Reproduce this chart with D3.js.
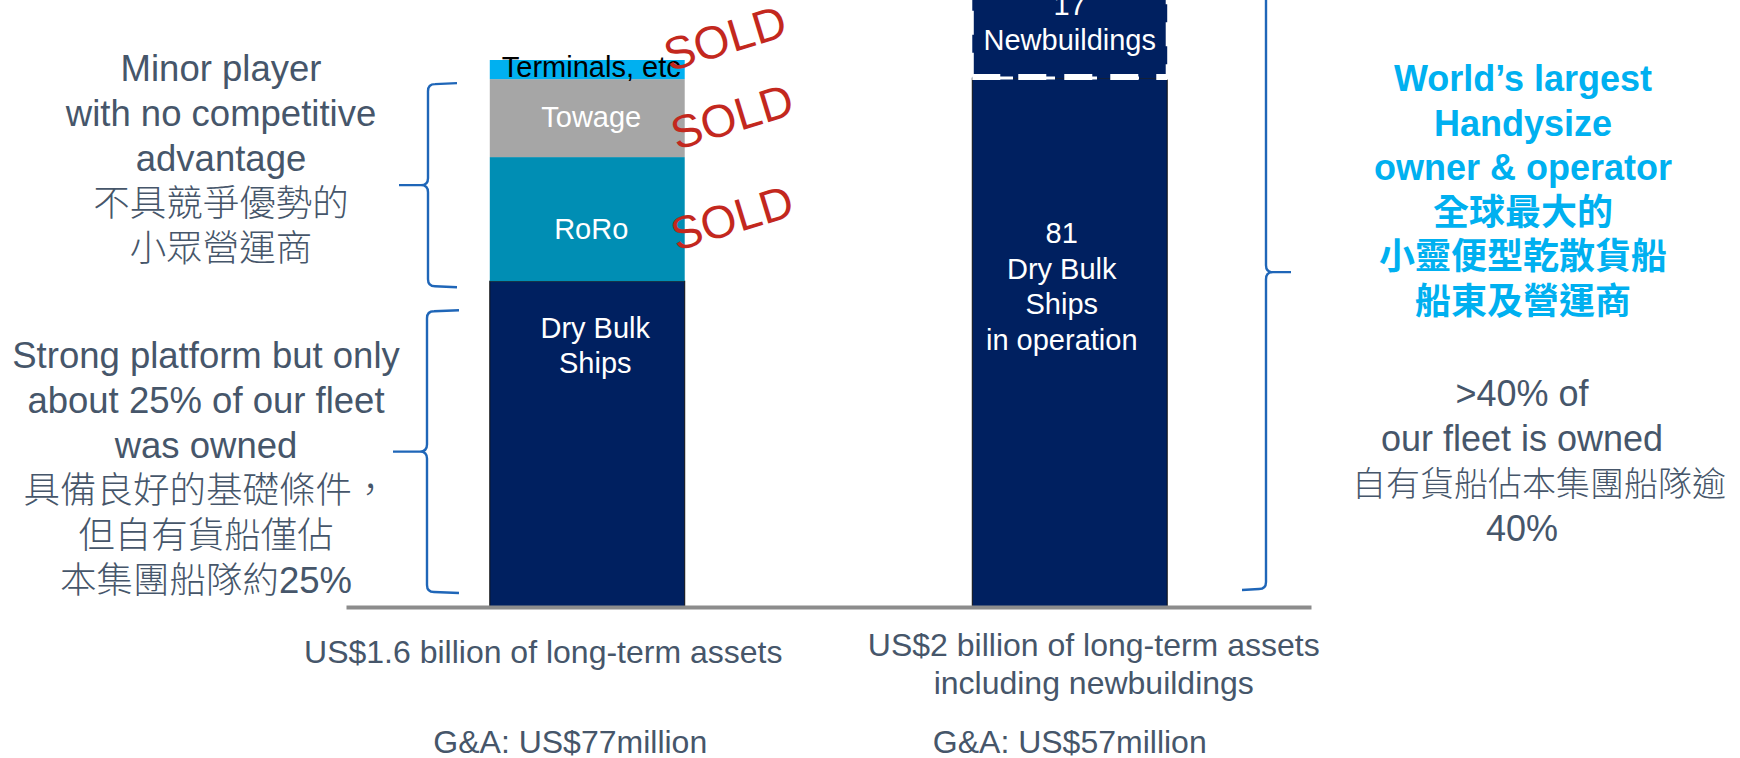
<!DOCTYPE html>
<html>
<head>
<meta charset="utf-8">
<script src="https://cdn.jsdelivr.net/npm/d3@7"></script>
<style>
body { margin: 0; background: #fff; }
text { font-family: "Liberation Sans", Arial, "Noto Sans CJK TC", sans-serif; }
</style>
</head>
<body>
<script>
// --- data (US$ billion of long-term assets) ---
var categories = ["before", "after"];
var beforeSegments = ["Dry Bulk", "RoRo", "Towage", "Terminals, etc"];
var beforeValues = [0.953, 0.363, 0.228, 0.056];
var beforeSold = [false, true, true, true];
var afterSegments = ["Dry Bulk in operation", "Newbuildings"];
var afterValues = [1.547, 0.453];

var beforeLabels = [["Dry Bulk", "Ships"], ["RoRo"], ["Towage"], ["Terminals, etc"]];
var afterLabels = [["81", "Dry Bulk", "Ships", "in operation"], ["17", "Newbuildings"]];

var bottomLabels = [
    ["US$1.6 billion of long-term assets"],
    ["US$2 billion of long-term assets", "including newbuildings"]
];
var gaLabels = ["G&A: US$77million", "G&A: US$57million"];

var minorText = ["Minor player", "with no competitive", "advantage", "不具競爭優勢的", "小眾營運商"];
var strongText = ["Strong platform but only", "about 25% of our fleet", "was owned", "具備良好的基礎條件，", "但自有貨船僅佔", "本集團船隊約25%"];
var largestText = ["World\u2019s largest", "Handysize", "owner & operator", "全球最大的", "小靈便型乾散貨船", "船東及營運商"];
var ownedText = [">40% of", "our fleet is owned", "自有貨船佔本集團船隊逾", "40%"];

var beforeColors = ["#002060", "#008eb4", "#a6a6a6", "#00b0f0"];
var navy = "#002060";
var grey = "#46566a";
var red = "#c3281e";
var braceBlue = "#1f66b8";

var W = 1740, H = 758;
var svg = d3.select("body").append("svg").attr("width", W).attr("height", H);

var x = d3.scaleBand().domain(categories).range([346, 1311]).paddingInner(0.596).paddingOuter(0.298);
var y = d3.scaleLinear().domain([0, 1.6]).range([607, 60]);
var bw = x.bandwidth();

function stackUp(values) {
    var acc = 0;
    return values.map(function (v) {
        var s = {y0: acc, y1: acc + v};
        acc += v;
        return s;
    });
}

var beforeStack = stackUp(beforeValues);
var afterStack = stackUp(afterValues);

// left bar
svg.append("g").selectAll("rect")
    .data(beforeStack)
    .join("rect")
    .attr("x", x("before"))
    .attr("y", function (d) { return y(d.y1); })
    .attr("width", bw)
    .attr("height", function (d) { return y(d.y0) - y(d.y1); })
    .attr("fill", function (d, i) { return beforeColors[i]; })
    .attr("stroke", function (d, i) { return i == 0 ? "#111" : "none"; })
    .attr("stroke-width", 1);

// right bar: ships in operation
svg.append("rect")
    .attr("x", x("after"))
    .attr("y", y(afterStack[0].y1))
    .attr("width", bw)
    .attr("height", y(afterStack[0].y0) - y(afterStack[0].y1))
    .attr("fill", navy)
    .attr("stroke", "#111")
    .attr("stroke-width", 1);

// newbuildings, dashed box
svg.append("rect")
    .attr("x", x("after"))
    .attr("y", y(afterStack[1].y1))
    .attr("width", bw)
    .attr("height", y(afterStack[1].y0) - y(afterStack[1].y1))
    .attr("fill", navy)
    .attr("stroke", "#fff")
    .attr("stroke-width", 3)
    .attr("stroke-dasharray", "24,18");
svg.append("line")
    .attr("x1", x("after")).attr("x2", x("after") + bw)
    .attr("y1", y(afterStack[1].y0) - 1).attr("y2", y(afterStack[1].y0) - 1)
    .attr("stroke", "#fff")
    .attr("stroke-width", 6)
    .attr("stroke-dasharray", "28,18");

// baseline
var axis = svg.append("g")
    .attr("transform", "translate(0," + y(0) + ")")
    .call(d3.axisBottom(x).tickSize(0).tickSizeOuter(0).tickFormat(""));
axis.selectAll(".tick").remove();
axis.select(".domain").attr("stroke", "#8c8c8c").attr("stroke-width", 4);

// labels in the bars
function barLabel(lines, cx, top, first, step, color) {
    var t = svg.append("text")
        .attr("text-anchor", "middle")
        .attr("font-size", 29)
        .attr("fill", color);
    lines.forEach(function (l, i) {
        t.append("tspan").attr("x", cx).attr("y", top + first + i * step).text(l);
    });
}

var cxB = x("before") + bw / 2;
var cxA = x("after") + bw / 2;
var beforeFirst = [57, 82, 48, 17];
beforeStack.forEach(function (d, i) {
    barLabel(beforeLabels[i], cxB + (i == 0 ? 8 : 4), y(d.y1), beforeFirst[i], 35, i == 3 ? "#000" : "#fff");
});
barLabel(afterLabels[0], cxA - 8, y(afterStack[0].y1), 165, 35.5, "#fff");
barLabel(afterLabels[1], cxA, y(afterStack[1].y1), 92, 35, "#fff");

// SOLD stamps
var soldShift = [0, -2, -2, -32];
beforeStack.forEach(function (d, i) {
    if (!beforeSold[i]) return;
    var cx = x("before") + bw + (i == 3 ? 40 : 47);
    var cy = (y(d.y0) + y(d.y1)) / 2 + soldShift[i];
    svg.append("text")
        .attr("transform", "translate(" + cx + "," + cy + ") rotate(-17)")
        .attr("text-anchor", "middle")
        .attr("dy", "0.36em")
        .attr("font-size", 46)
        .attr("fill", red)
        .text("SOLD");
});

// braces
function brace(x0, y0, y1, tipX, endX) {
    var s = endX > x0 ? 1 : -1, r = 7, mid = (y0 + y1) / 2;
    var p = d3.path();
    p.moveTo(endX, y0);
    p.lineTo(x0 + s * r, y0 + 1);
    p.quadraticCurveTo(x0, y0 + 1, x0, y0 + r + 1);
    p.lineTo(x0, mid - r);
    p.quadraticCurveTo(x0, mid, x0 - s * r, mid);
    p.lineTo(tipX, mid);
    p.moveTo(x0 - s * r, mid);
    p.quadraticCurveTo(x0, mid, x0, mid + r);
    p.lineTo(x0, y1 - r - 1);
    p.quadraticCurveTo(x0, y1 - 1, x0 + s * r, y1 - 1);
    p.lineTo(endX, y1);
    svg.append("path")
        .attr("d", p.toString())
        .attr("fill", "none")
        .attr("stroke", braceBlue)
        .attr("stroke-width", 2.4);
}
brace(428, y(beforeStack[2].y1) + 4, y(beforeStack[0].y1) + 6, 399, 457);
brace(427, y(beforeStack[0].y1) + 29, y(0) - 14, 393, 459);
brace(1266, y(afterStack[1].y1) + 31, y(0) - 17, 1291, 1242);

// side notes; CJK lines drawn a little lighter
var cjk = /[\u4e00-\u9fff]/;
function note(lines, cx, base, step, color, weight, size) {
    var t = svg.append("text")
        .attr("text-anchor", "middle")
        .attr("font-size", size || 36)
        .attr("font-weight", weight)
        .attr("fill", color);
    lines.forEach(function (l, i) {
        var ts = t.append("tspan").attr("x", cx).attr("y", base + i * step).text(l);
        if (weight < 700 && cjk.test(l)) ts.attr("font-weight", 300);
    });
    return t;
}
note(minorText, 221, 81, 45, grey, 400, 36.5);
note(strongText, 206, 368, 45, grey, 400, 36.5);
note(largestText, 1523, 91, 44.6, "#00b0f0", 700);
var owned = note(ownedText, 1522, 406, 45, grey, 400);
owned.selectAll("tspan").filter(function (d, i) { return i == 2; })
    .attr("x", 1539).attr("font-size", 34);

// bottom captions
var capX = [cxB - 44, cxA + 24];
bottomLabels.forEach(function (lines, i) {
    var t = svg.append("text")
        .attr("text-anchor", "middle")
        .attr("font-size", 32)
        .attr("fill", grey);
    lines.forEach(function (l, j) {
        t.append("tspan").attr("x", capX[i]).attr("y", (i == 0 ? 663 : 656) + j * 38).text(l);
    });
});
var gaX = [cxB - 17, cxA];
gaLabels.forEach(function (l, i) {
    svg.append("text")
        .attr("x", gaX[i])
        .attr("y", 753)
        .attr("text-anchor", "middle")
        .attr("font-size", 32)
        .attr("fill", grey)
        .text(l);
});
</script>
</body>
</html>
